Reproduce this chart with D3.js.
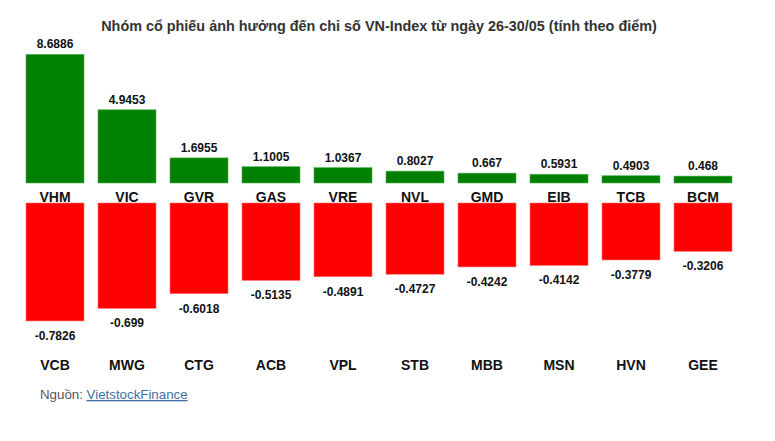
<!DOCTYPE html>
<html>
<head>
<meta charset="utf-8">
<script src="https://cdn.jsdelivr.net/npm/d3@7"></script>
<style>
  body { margin: 0; background: #fff; }
  svg { font-family: Arial, "Liberation Sans", sans-serif; display: block; }
  .title { font-size: 14.4px; font-weight: bold; fill: #333; }
  .cat { font-size: 14px; font-weight: bold; fill: #111; }
  .val { font-size: 12px; font-weight: bold; fill: #111; }
  .src { font-size: 13.3px; fill: #555; }
  .src-link { fill: #3f6fa5; text-decoration: underline; }
</style>
</head>
<body>
<svg id="chart"></svg>
<script>
// top 10 gainers / losers by index points
const upCodes   = ["VHM", "VIC", "GVR", "GAS", "VRE", "NVL", "GMD", "EIB", "TCB", "BCM"];
const upValues  = [8.6886, 4.9453, 1.6955, 1.1005, 1.0367, 0.8027, 0.667, 0.5931, 0.4903, 0.468];
const downCodes  = ["VCB", "MWG", "CTG", "ACB", "VPL", "STB", "MBB", "MSN", "HVN", "GEE"];
const downValues = [-0.7826, -0.699, -0.6018, -0.5135, -0.4891, -0.4727, -0.4242, -0.4142, -0.3779, -0.3206];

const title = "Nhóm cổ phiếu ảnh hưởng đến chỉ số VN-Index từ ngày 26-30/05 (tính theo điểm)";

const W = 775, H = 441;
const upBase = 183;    // baseline of green bars
const downBase = 203;  // top of red bars

const svg = d3.select("#chart").attr("width", W).attr("height", H);

svg.append("text")
  .attr("class", "title")
  .attr("x", 379).attr("y", 31)
  .attr("text-anchor", "middle")
  .text(title);

const x = d3.scaleBand()
  .domain(d3.range(upCodes.length))
  .range([19, 739])
  .paddingInner(0.1944)
  .paddingOuter(0.0972);

// each half has its own scale
const yUp = d3.scaleLinear().domain([0, 9]).range([upBase, upBase - 9 * 14.8]);
const yDown = d3.scaleLinear().domain([0, -0.8]).range([downBase, downBase + 0.8 * 150.7]);

// green bars
const gUp = svg.append("g");
gUp.selectAll("rect")
  .data(upValues)
  .join("rect")
    .attr("x", (d, i) => x(i))
    .attr("y", d => yUp(d))
    .attr("width", x.bandwidth())
    .attr("height", d => yUp(0) - yUp(d))
    .attr("fill", "#008000")
    .attr("stroke", "#4fb24f")
    .attr("stroke-width", 0.6);

gUp.selectAll("text.val")
  .data(upValues)
  .join("text")
    .attr("class", "val")
    .attr("x", (d, i) => x(i) + x.bandwidth() / 2)
    .attr("y", d => yUp(d) - 6)
    .attr("text-anchor", "middle")
    .text(d => d);

gUp.selectAll("text.cat")
  .data(upCodes)
  .join("text")
    .attr("class", "cat")
    .attr("x", (d, i) => x(i) + x.bandwidth() / 2)
    .attr("y", 201.5)
    .attr("text-anchor", "middle")
    .text(d => d);

// red bars
const gDown = svg.append("g");
gDown.selectAll("rect")
  .data(downValues)
  .join("rect")
    .attr("x", (d, i) => x(i))
    .attr("y", yDown(0))
    .attr("width", x.bandwidth())
    .attr("height", d => yDown(d) - yDown(0))
    .attr("fill", "#ff0000")
    .attr("stroke", "#ff6b6b")
    .attr("stroke-width", 0.6);

gDown.selectAll("text.val")
  .data(downValues)
  .join("text")
    .attr("class", "val")
    .attr("x", (d, i) => x(i) + x.bandwidth() / 2)
    .attr("y", d => yDown(d) + 19)
    .attr("text-anchor", "middle")
    .text(d => d);

gDown.selectAll("text.cat")
  .data(downCodes)
  .join("text")
    .attr("class", "cat")
    .attr("x", (d, i) => x(i) + x.bandwidth() / 2)
    .attr("y", 370)
    .attr("text-anchor", "middle")
    .text(d => d);

// source line
const src = svg.append("text").attr("class", "src").attr("x", 40).attr("y", 399);
src.append("tspan").text("Nguồn: ");
src.append("tspan").attr("class", "src-link").text("VietstockFinance");
</script>
</body>
</html>
